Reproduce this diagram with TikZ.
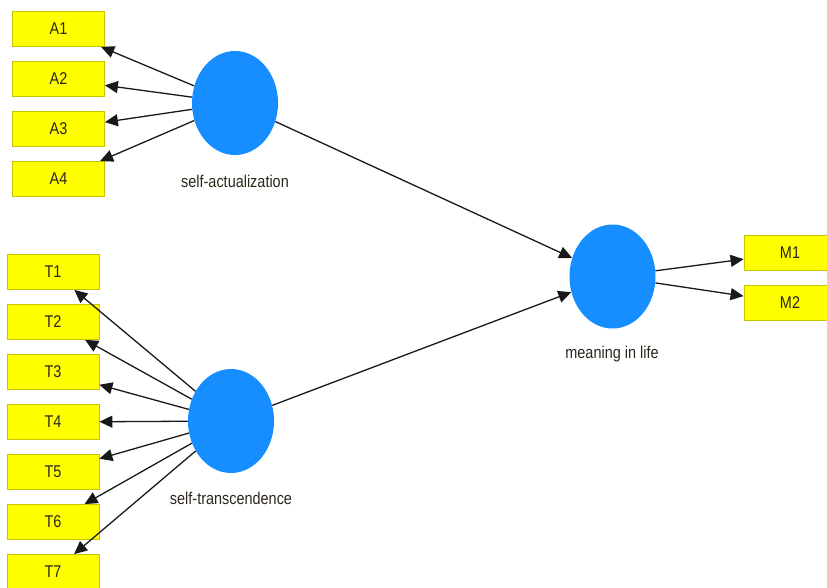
\documentclass[tikz,border=0pt]{standalone}
\usepackage{fontspec}
\setmainfont{Liberation Sans}[FakeStretch=0.85]
\usetikzlibrary{arrows.meta,shapes.geometric}
\definecolor{boxfill}{HTML}{FFFF00}
\definecolor{boxline}{HTML}{C8C400}
\definecolor{lvblue}{HTML}{168EFF}
\definecolor{txt}{HTML}{2A2618}
\tikzset{
  bigtip/.tip={Triangle[length=13pt,width=12pt]},
  ind/.style={draw=boxline, fill=boxfill, line width=0.8pt, rectangle, minimum width=92pt, minimum height=35pt, inner sep=0pt, text=txt, font=\fontsize{17}{19}\selectfont},
  lv/.style={ellipse, fill=lvblue, draw=none, minimum width=86pt, minimum height=104pt, inner sep=0pt},
  lvlabel/.style={text=txt, font=\fontsize{17}{19}\selectfont, inner sep=0pt},
  arr/.style={line width=1.3pt, draw=black!90, arrows={-bigtip}}
}
\begin{document}
\begin{tikzpicture}[x=1pt,y=-1pt]
\useasboundingbox (0,0) rectangle (827,587);
% indicators
\node[ind] (A1) at (58.5,29) {A1};
\node[ind] (A2) at (58.5,79) {A2};
\node[ind] (A3) at (58.5,129) {A3};
\node[ind] (A4) at (58.5,179) {A4};
\node[ind] (T1) at (53,272) {T1};
\node[ind] (T2) at (53,322) {T2};
\node[ind] (T3) at (53,372) {T3};
\node[ind] (T4) at (53,422) {T4};
\node[ind] (T5) at (53,472) {T5};
\node[ind] (T6) at (53,522) {T6};
\node[ind] (T7) at (53,572) {T7};
\node[ind] (M1) at (790,253) {M1};
\node[ind] (M2) at (790,303) {M2};
% latent variables
\node[lv] (SA) at (235,103) {};
\node[lv] (ST) at (231,421) {};
\node[lv] (ML) at (612.5,276.5) {};
\node[lvlabel] (SAl) at (235,181) {self-actualization};
\node[lvlabel] (STl) at (231,498) {self-transcendence};
\node[lvlabel] (MLl) at (612,354) {meaning in life};
% connectors
\foreach \i in {1,...,4} { \draw[arr] (SA) -- (A\i); }
\foreach \i in {1,...,7} { \draw[arr] (ST) -- (T\i); }
\draw[arr] (SA) -- (ML);
\draw[arr] (ST) -- (ML);
\draw[arr] (ML) -- (M1);
\draw[arr] (ML) -- (M2);
\end{tikzpicture}
\end{document}
